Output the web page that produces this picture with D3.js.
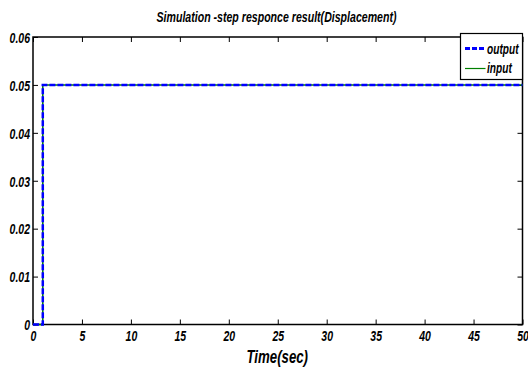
<!DOCTYPE html>
<html>
<head>
<meta charset="utf-8">
<script src="https://cdn.jsdelivr.net/npm/d3@7"></script>
<style>
  body { margin: 0; background: #fff; }
  text { font-family: "Liberation Sans", Arial, sans-serif; font-weight: bold; font-style: italic; fill: #000; }
</style>
</head>
<body>
<svg id="chart" width="528" height="369"></svg>
<script>
// step response data
const timeVals = [0, 1, 1, 50];
const inputVals = [0, 0, 0.05, 0.05];
const outputVals = [0, 0, 0.05, 0.05];
const xTicks = [0, 5, 10, 15, 20, 25, 30, 35, 40, 45, 50];
const yTicks = [0, 0.01, 0.02, 0.03, 0.04, 0.05, 0.06];
const yTickLabels = ["0", "0.01", "0.02", "0.03", "0.04", "0.05", "0.06"];

let svg = d3.select("svg#chart");

let pad = { top: 37, bottom: 44.5, left: 33, right: 5.5 };
let W = 528, H = 369;
let w = W - pad.left - pad.right;
let h = H - pad.top - pad.bottom;
let squeeze = 0.7; // narrow font look

let g = svg.append("g").attr("transform", "translate(" + pad.left + "," + pad.top + ")");

let x = d3.scaleLinear().domain([0, 50]).range([0, w]);
let y = d3.scaleLinear().domain([0, 0.06]).range([h, 0]);

/* axes with inward ticks */
let xAxis = d3.axisBottom(x).tickValues(xTicks).tickSize(-5).tickPadding(6).tickFormat(d3.format("d"));
let xTop = d3.axisTop(x).tickValues(xTicks).tickSize(-5).tickFormat("");
let yAxis = d3.axisLeft(y).tickValues(yTicks).tickSize(-5).tickPadding(3).tickFormat((d, i) => yTickLabels[i]);
let yRight = d3.axisRight(y).tickValues(yTicks).tickSize(-5).tickFormat("");

let gx = g.append("g").attr("transform", "translate(0," + h + ")").call(xAxis);
g.append("g").call(xTop);
let gy = g.append("g").call(yAxis);
g.append("g").attr("transform", "translate(" + w + ",0)").call(yRight);

g.selectAll(".domain").remove();
g.selectAll(".tick line").attr("stroke", "#000").attr("stroke-width", 1);
gx.selectAll(".tick text")
  .attr("font-size", 15).attr("fill", "#000")
  .attr("transform", "scale(" + squeeze + ",1)");
gy.selectAll(".tick text")
  .attr("font-size", 15).attr("fill", "#000").attr("dy", "0.35em")
  .attr("x", -3 / squeeze)
  .attr("transform", "scale(" + squeeze + ",1)");

/* box */
g.append("rect")
  .attr("x", 0).attr("y", 0).attr("width", w).attr("height", h)
  .attr("fill", "none").attr("stroke", "#000").attr("stroke-width", 1.5);

/* lines: input under, output dashed on top */
let line = d3.line().x(d => x(d[0])).y(d => y(d[1]));
let inputData = timeVals.map((t, i) => [t, inputVals[i]]);
let outputData = timeVals.map((t, i) => [t, outputVals[i]]);

g.append("path").datum(inputData)
  .attr("d", line).attr("fill", "none")
  .attr("stroke", "#008000").attr("stroke-width", 1.5);
g.append("path").datum(outputData)
  .attr("d", line).attr("fill", "none")
  .attr("stroke", "#0000ff").attr("stroke-width", 2.5).attr("stroke-dasharray", "6,2");

/* title and label */
svg.append("text")
  .attr("x", 156.5).attr("y", 22)
  .attr("font-size", 14)
  .attr("textLength", 240).attr("lengthAdjust", "spacingAndGlyphs")
  .text("Simulation -step responce result(Displacement)");
svg.append("text")
  .attr("x", 246.5).attr("y", 363)
  .attr("font-size", 19)
  .attr("textLength", 61.5).attr("lengthAdjust", "spacingAndGlyphs")
  .text("Time(sec)");

/* legend */
let leg = svg.append("g").attr("transform", "translate(460.5,33.5)");
leg.append("rect").attr("width", 62).attr("height", 46)
  .attr("fill", "#fff").attr("stroke", "#000").attr("stroke-width", 1.2);
leg.append("line").attr("x1", 4.5).attr("x2", 25).attr("y1", 15).attr("y2", 15)
  .attr("stroke", "#0000ff").attr("stroke-width", 3).attr("stroke-dasharray", "5,2");
leg.append("text").attr("font-size", 14.5)
  .attr("transform", "translate(26.5,20) scale(" + squeeze + ",1)").text("output");
leg.append("line").attr("x1", 4.5).attr("x2", 25).attr("y1", 35).attr("y2", 35)
  .attr("stroke", "#008000").attr("stroke-width", 1.2);
leg.append("text").attr("font-size", 14.5)
  .attr("transform", "translate(26.5,39) scale(" + squeeze + ",1)").text("input");
</script>
</body>
</html>
